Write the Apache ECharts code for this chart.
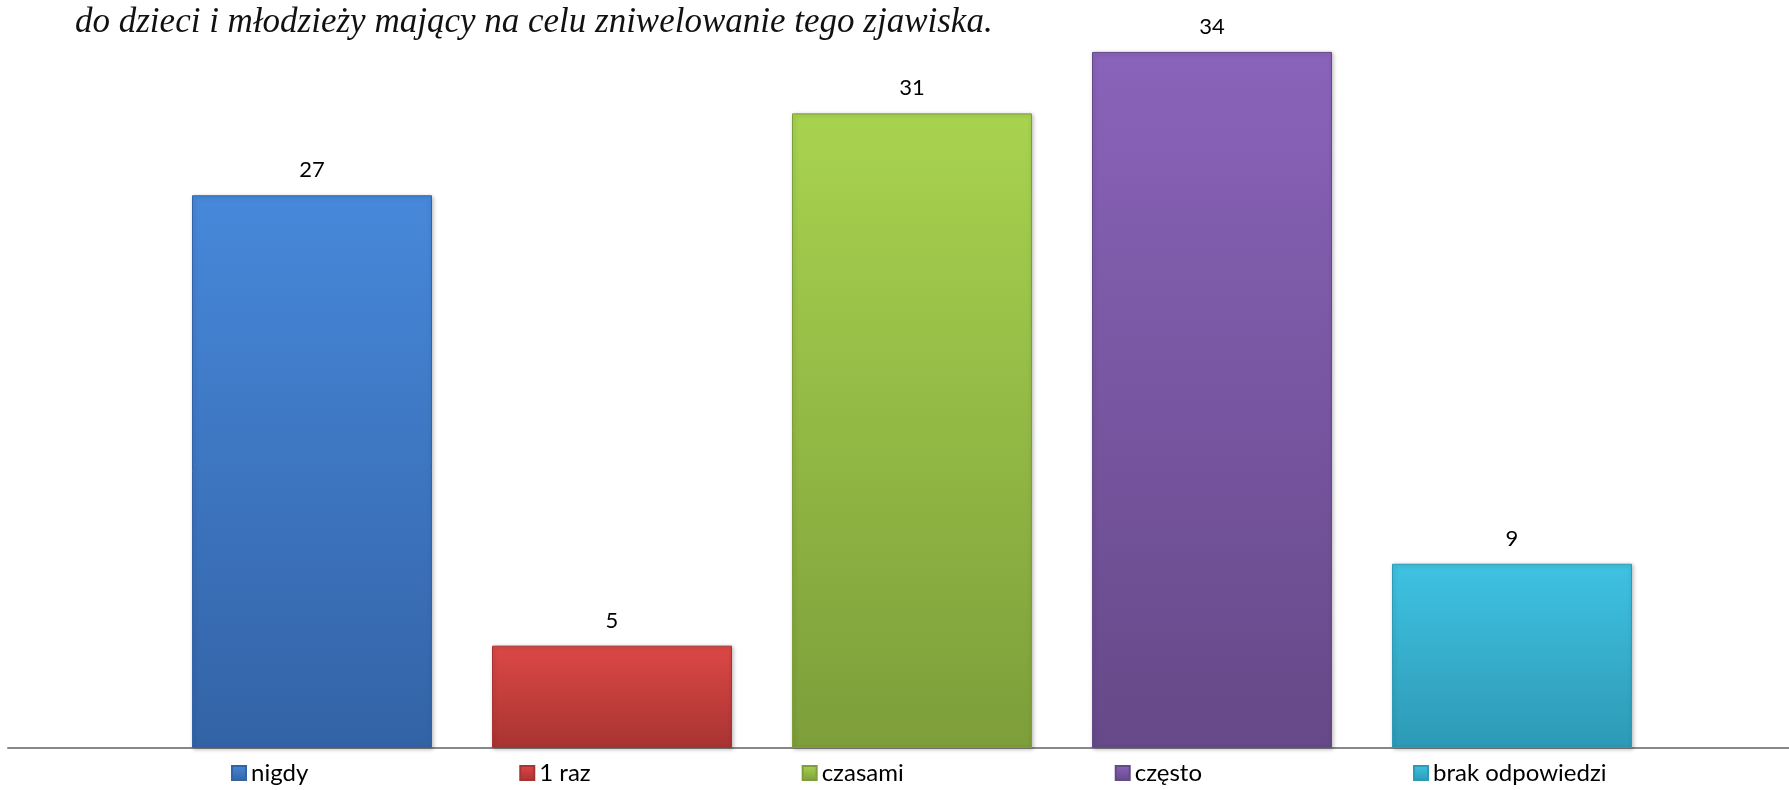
<!DOCTYPE html>
<html>
<head>
<meta charset="utf-8">
<script src="https://cdn.jsdelivr.net/npm/echarts@6/dist/echarts.min.js"></script>
<style>
  html, body { margin: 0; padding: 0; background: #fff; }
  #chart { width: 1789px; height: 790px; }
</style>
</head>
<body>
<div id="chart"></div>
<script>
// dane
const seriesNames = ['nigdy', '1 raz', 'czasami', 'często', 'brak odpowiedzi'];
const seriesValues = [27, 5, 31, 34, 9];
// kolory: góra / dół gradientu
const topColors = ['#4788da', '#dc4846', '#a8d34f', '#8a63ba', '#3fc2e2'];
const bottomColors = ['#3363a6', '#a83432', '#7d9e3a', '#664988', '#2d9ab6'];
const headerText = 'do dzieci i młodzieży mający na celu zniwelowanie tego zjawiska.';

const chart = echarts.init(document.getElementById('chart'));

const series = seriesNames.map((name, i) => ({
  name: name,
  type: 'bar',
  xAxisIndex: 0,
  yAxisIndex: 0,
  barWidth: 240,
  barGap: '25%',
  data: [seriesValues[i]],
  itemStyle: {
    color: new echarts.graphic.LinearGradient(0, 0, 0, 1, [
      { offset: 0, color: topColors[i] },
      { offset: 1, color: bottomColors[i] }
    ]),
    borderColor: bottomColors[i],
    borderWidth: 1,
    shadowColor: 'rgba(0,0,0,0.25)',
    shadowBlur: 4,
    shadowOffsetX: 1,
    shadowOffsetY: 1
  },
  label: {
    show: true,
    position: 'top',
    distance: 14,
    color: '#000',
    fontFamily: 'Lato',
    fontSize: 22
  }
}));

chart.setOption({
  animation: false,
  title: {
    text: headerText,
    left: 70,
    top: 0,
    textStyle: {
      fontFamily: 'Liberation Serif',
      fontStyle: 'italic',
      fontWeight: 'normal',
      fontSize: 35,
      color: '#111'
    }
  },
  grid: [
    { left: 35, right: 0, top: 11, bottom: 42 },
    // tylko linia osi na całą szerokość
    { left: 8, right: 0, top: 11, bottom: 42 }
  ],
  legend: {
    data: seriesNames,
    bottom: 0,
    left: 226,
    itemWidth: 14,
    itemHeight: 14,
    itemGap: 211,
    icon: 'rect',
    textStyle: { fontFamily: 'Lato', fontSize: 24, color: '#000' }
  },
  xAxis: [
    {
      type: 'category',
      gridIndex: 0,
      data: [''],
      axisLine: { show: false },
      axisTick: { show: false },
      axisLabel: { show: false }
    },
    {
      type: 'category',
      gridIndex: 1,
      data: [''],
      axisLine: { lineStyle: { color: '#888', width: 2 } },
      axisTick: { show: false },
      axisLabel: { show: false }
    }
  ],
  yAxis: [
    { type: 'value', gridIndex: 0, min: 0, max: 36, show: false, splitLine: { show: false } },
    { type: 'value', gridIndex: 1, min: 0, max: 36, show: false, splitLine: { show: false } }
  ],
  series: series
});
</script>
</body>
</html>
